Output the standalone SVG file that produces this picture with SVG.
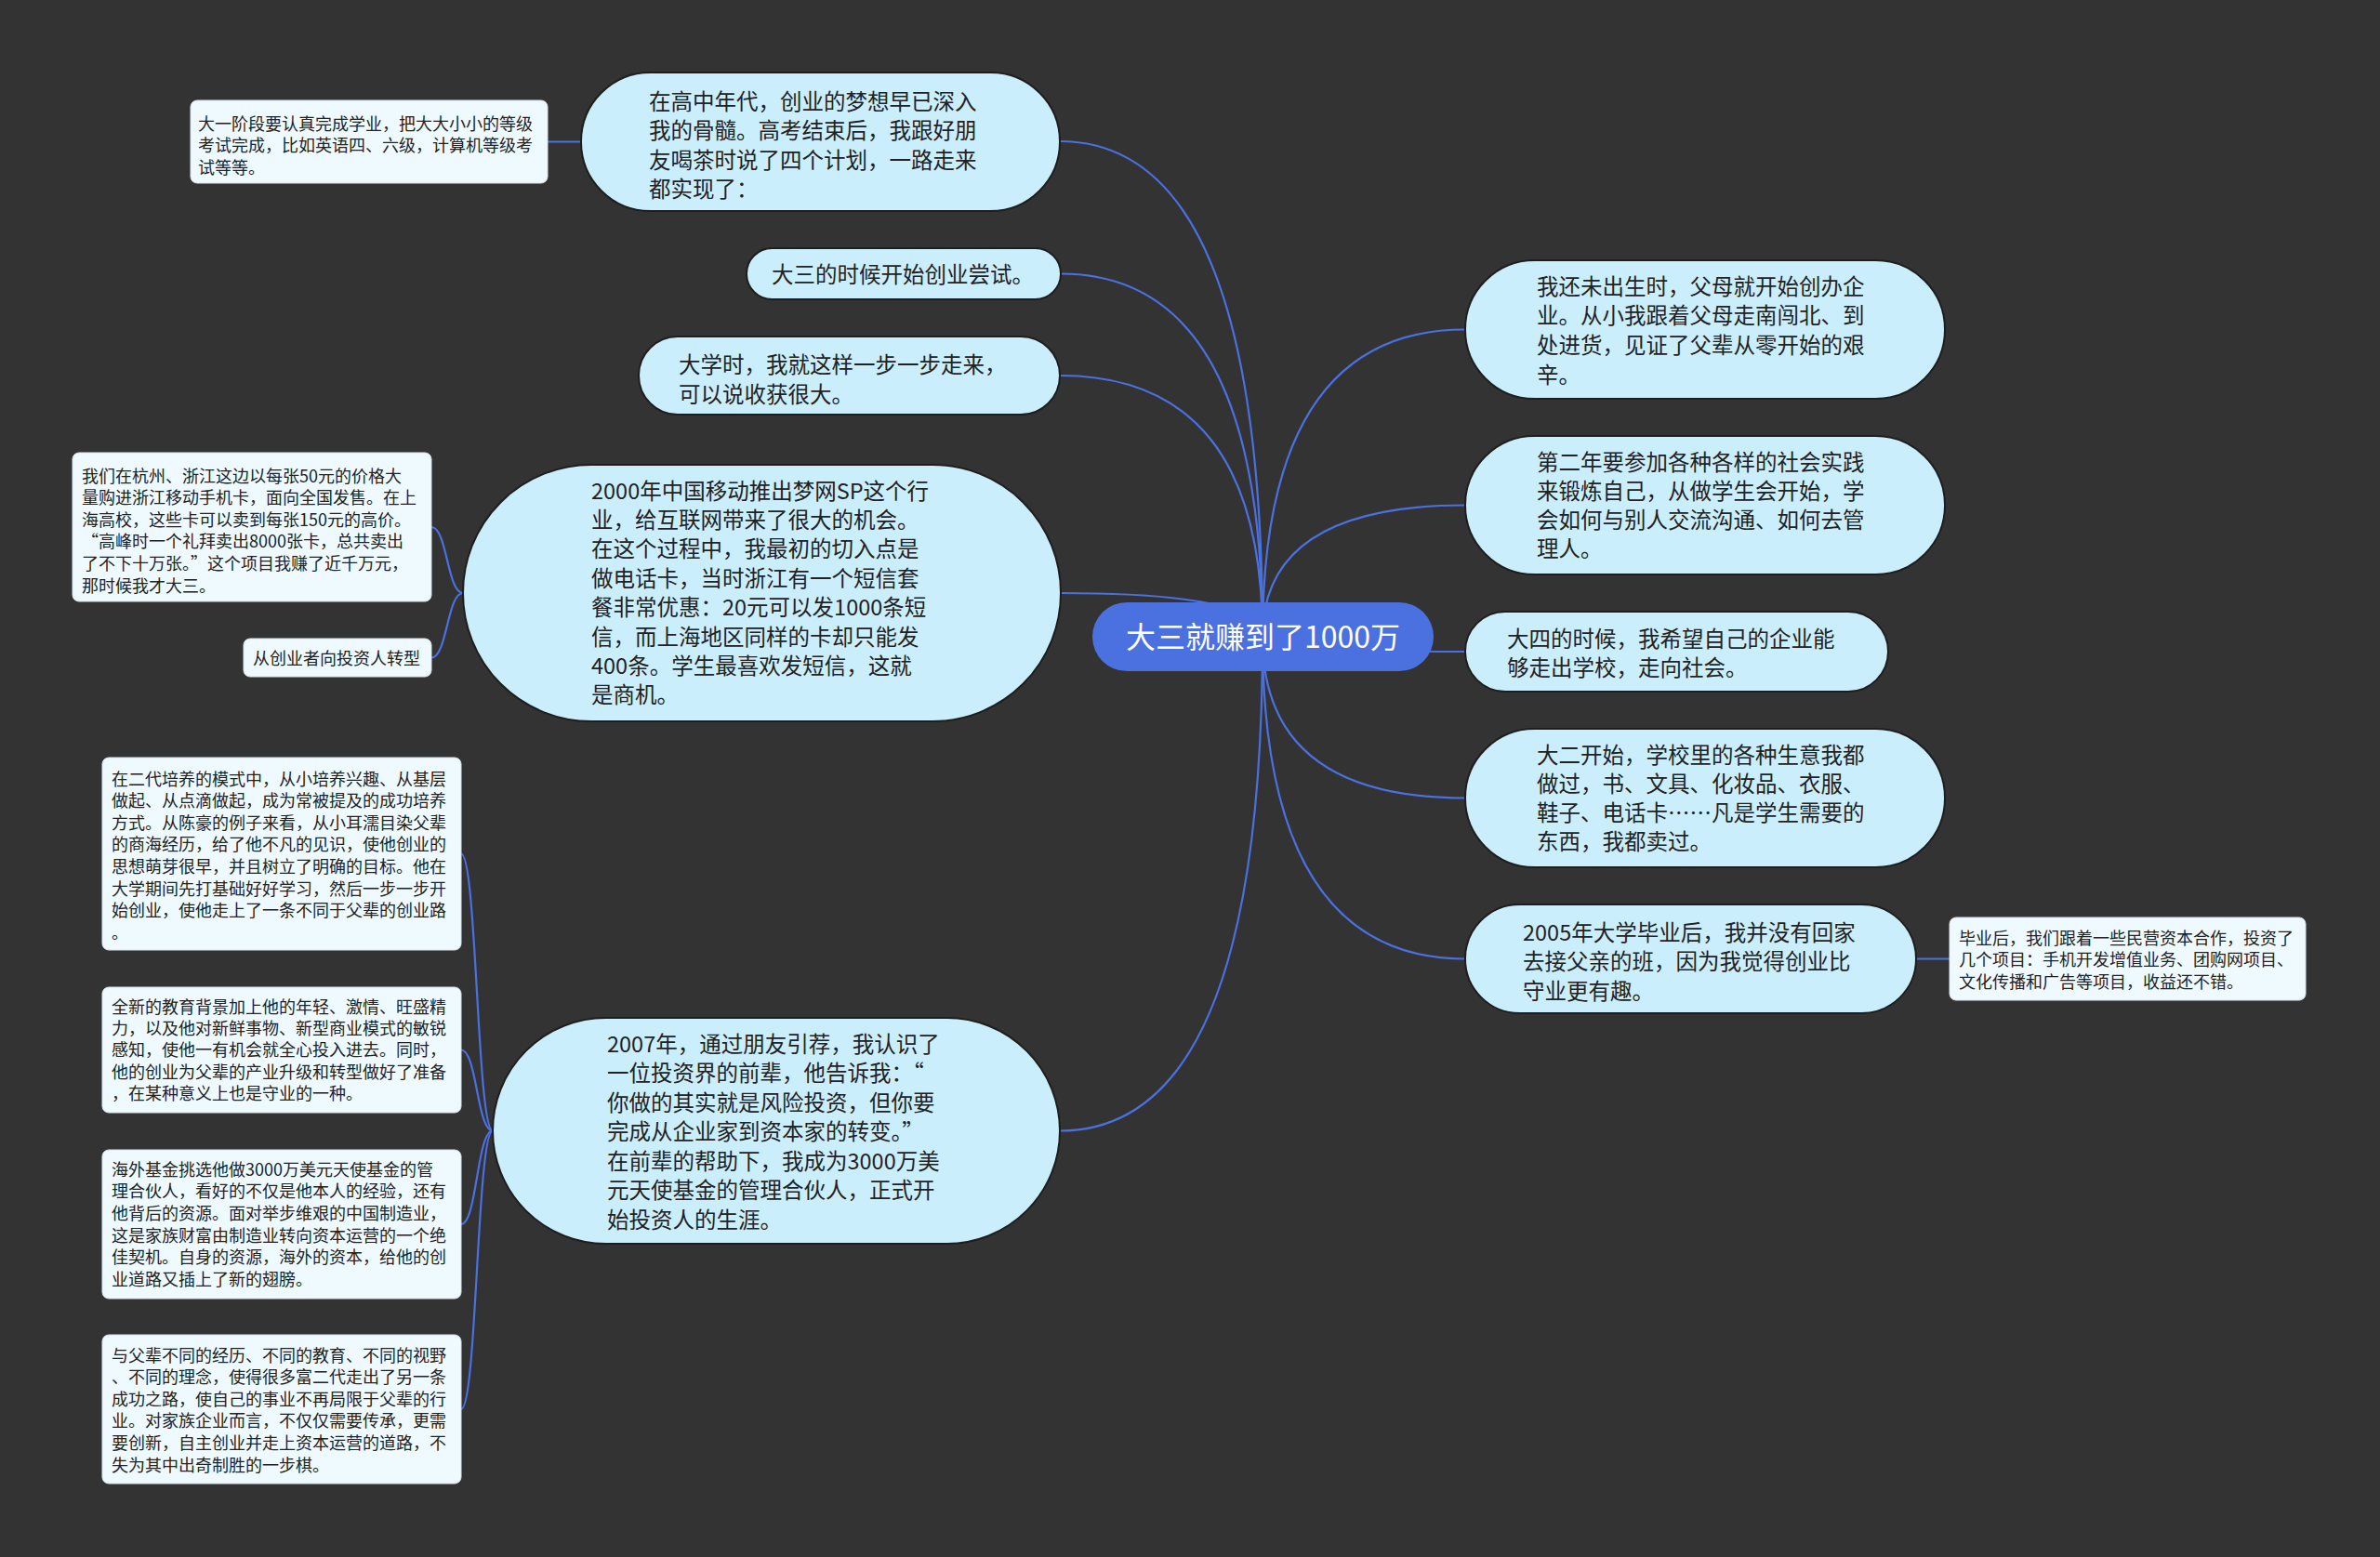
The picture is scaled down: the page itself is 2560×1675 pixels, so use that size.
<svg xmlns="http://www.w3.org/2000/svg" width="2560" height="1675" viewBox="0 0 2560 1675">
<style>
.bg{fill:#333333}
.pill{fill:#cbeefd;stroke:#1e1e1e;stroke-width:2}
.note{fill:#eefaff;stroke:#d8e4ea;stroke-width:1}
.root{fill:#4b70e0}
.t{font-family:"Noto Sans CJK SC","Noto Sans",sans-serif;fill:#222222}
.big{font-size:23.5px}
.small{font-size:18px}
.rt{font-family:"Noto Sans CJK SC","Noto Sans",sans-serif;font-size:32px;fill:#ffffff}
.ln{fill:none;stroke:#4b70e0;stroke-width:2.2}
</style>
<rect class="bg" x="0" y="0" width="2560" height="1675"/>
<g id="connectors">
<path class="ln" d="M1358,685 Q1358,152 1140,152"/>
<path class="ln" d="M1358,685 Q1358,294.5 1141,294.5"/>
<path class="ln" d="M1358,685 Q1358,404 1140,404"/>
<path class="ln" d="M1358,685 Q1358,638 1141,638"/>
<path class="ln" d="M1358,685 Q1358,1216.5 1140,1216.5"/>
<path class="ln" d="M1358,685 Q1358,354.5 1576,354.5"/>
<path class="ln" d="M1358,685 Q1358,543.5 1576,543.5"/>
<path class="ln" d="M1358,685 Q1358,701 1576,701"/>
<path class="ln" d="M1358,685 Q1358,858.5 1576,858.5"/>
<path class="ln" d="M1358,685 Q1358,1031.5 1576,1031.5"/>
<path class="ln" d="M625,152.5 L589,152.5"/>
<path class="ln" d="M2061,1031.5 L2097,1031.5"/>
<path class="ln" d="M498,638 C481,638 481,567 464,567"/>
<path class="ln" d="M498,638 C481,638 481,707.5 464,707.5"/>
<path class="ln" d="M530,1216.5 C513,1216.5 513,918.5 496,918.5"/>
<path class="ln" d="M530,1216.5 C513,1216.5 513,1129.5 496,1129.5"/>
<path class="ln" d="M530,1216.5 C513,1216.5 513,1317 496,1317"/>
<path class="ln" d="M530,1216.5 C513,1216.5 513,1516 496,1516"/>
</g>
<g id="root">
<rect class="root" x="1175" y="648" width="367" height="74" rx="37"/>
<text class="rt" x="1358.5" y="697" text-anchor="middle">大三就赚到了1000万</text>
</g>
<g id="nodeA">
<rect class="pill" x="625" y="78" width="515" height="149" rx="74.5"/>
<text class="t big"><tspan x="698" y="117.5">在高中年代，创业的梦想早已深入</tspan><tspan x="698" y="149.1">我的骨髓。高考结束后，我跟好朋</tspan><tspan x="698" y="180.7">友喝茶时说了四个计划，一路走来</tspan><tspan x="698" y="212.3">都实现了：</tspan></text>
</g>
<g id="nodeB">
<rect class="pill" x="803" y="267" width="338" height="55" rx="27.5"/>
<text class="t big" x="830" y="304">大三的时候开始创业尝试。</text>
</g>
<g id="nodeC">
<rect class="pill" x="687" y="362" width="453" height="84" rx="42"/>
<text class="t big"><tspan x="730" y="401">大学时，我就这样一步一步走来，</tspan><tspan x="730" y="432.5">可以说收获很大。</tspan></text>
</g>
<g id="nodeD">
<rect class="pill" x="498" y="500" width="643" height="276" rx="138"/>
<text class="t big"><tspan x="636" y="536.5">2000年中国移动推出梦网SP这个行</tspan><tspan x="636" y="567.9">业，给互联网带来了很大的机会。</tspan><tspan x="636" y="599.3">在这个过程中，我最初的切入点是</tspan><tspan x="636" y="630.7">做电话卡，当时浙江有一个短信套</tspan><tspan x="636" y="662.1">餐非常优惠：20元可以发1000条短</tspan><tspan x="636" y="693.5">信，而上海地区同样的卡却只能发</tspan><tspan x="636" y="724.9">400条。学生最喜欢发短信，这就</tspan><tspan x="636" y="756.3">是商机。</tspan></text>
</g>
<g id="nodeE">
<rect class="pill" x="530" y="1095" width="610" height="243" rx="121.5"/>
<text class="t big"><tspan x="653" y="1131.5">2007年，通过朋友引荐，我认识了</tspan><tspan x="653" y="1163">一位投资界的前辈，他告诉我：“</tspan><tspan x="653" y="1194.5">你做的其实就是风险投资，但你要</tspan><tspan x="653" y="1226">完成从企业家到资本家的转变。”</tspan><tspan x="653" y="1257.5">在前辈的帮助下，我成为3000万美</tspan><tspan x="653" y="1289">元天使基金的管理合伙人，正式开</tspan><tspan x="653" y="1320.5">始投资人的生涯。</tspan></text>
</g>
<g id="nodeF">
<rect class="note" x="205" y="108" width="384" height="89" rx="7"/>
<text class="t small"><tspan x="213" y="139.5">大一阶段要认真完成学业，把大大小小的等级</tspan><tspan x="213" y="163">考试完成，比如英语四、六级，计算机等级考</tspan><tspan x="213" y="186.5">试等等。</tspan></text>
</g>
<g id="nodeG">
<rect class="note" x="78" y="487" width="386" height="160" rx="7"/>
<text class="t small"><tspan x="88" y="518.5">我们在杭州、浙江这边以每张50元的价格大</tspan><tspan x="88" y="542.1">量购进浙江移动手机卡，面向全国发售。在上</tspan><tspan x="88" y="565.7">海高校，这些卡可以卖到每张150元的高价。</tspan><tspan x="88" y="589.3">“高峰时一个礼拜卖出8000张卡，总共卖出</tspan><tspan x="88" y="612.9">了不下十万张。”这个项目我赚了近千万元，</tspan><tspan x="88" y="636.5">那时候我才大三。</tspan></text>
</g>
<g id="nodeH">
<rect class="note" x="262" y="687" width="202" height="41" rx="7"/>
<text class="t small" x="272" y="714.5">从创业者向投资人转型</text>
</g>
<g id="nodeI">
<rect class="note" x="110" y="815" width="386" height="207" rx="7"/>
<text class="t small"><tspan x="120" y="844.5">在二代培养的模式中，从小培养兴趣、从基层</tspan><tspan x="120" y="868.1">做起、从点滴做起，成为常被提及的成功培养</tspan><tspan x="120" y="891.7">方式。从陈豪的例子来看，从小耳濡目染父辈</tspan><tspan x="120" y="915.3">的商海经历，给了他不凡的见识，使他创业的</tspan><tspan x="120" y="938.9">思想萌芽很早，并且树立了明确的目标。他在</tspan><tspan x="120" y="962.5">大学期间先打基础好好学习，然后一步一步开</tspan><tspan x="120" y="986.1">始创业，使他走上了一条不同于父辈的创业路</tspan><tspan x="120" y="1009.7">。</tspan></text>
</g>
<g id="nodeJ">
<rect class="note" x="110" y="1062" width="386" height="135" rx="7"/>
<text class="t small"><tspan x="120" y="1089.5">全新的教育背景加上他的年轻、激情、旺盛精</tspan><tspan x="120" y="1112.9">力，以及他对新鲜事物、新型商业模式的敏锐</tspan><tspan x="120" y="1136.3">感知，使他一有机会就全心投入进去。同时，</tspan><tspan x="120" y="1159.7">他的创业为父辈的产业升级和转型做好了准备</tspan><tspan x="120" y="1183.1">，在某种意义上也是守业的一种。</tspan></text>
</g>
<g id="nodeK">
<rect class="note" x="110" y="1237" width="386" height="160" rx="7"/>
<text class="t small"><tspan x="120" y="1264.5">海外基金挑选他做3000万美元天使基金的管</tspan><tspan x="120" y="1288.2">理合伙人，看好的不仅是他本人的经验，还有</tspan><tspan x="120" y="1311.9">他背后的资源。面对举步维艰的中国制造业，</tspan><tspan x="120" y="1335.6">这是家族财富由制造业转向资本运营的一个绝</tspan><tspan x="120" y="1359.3">佳契机。自身的资源，海外的资本，给他的创</tspan><tspan x="120" y="1383">业道路又插上了新的翅膀。</tspan></text>
</g>
<g id="nodeL">
<rect class="note" x="110" y="1436" width="386" height="160" rx="7"/>
<text class="t small"><tspan x="120" y="1464.5">与父辈不同的经历、不同的教育、不同的视野</tspan><tspan x="120" y="1488.1">、不同的理念，使得很多富二代走出了另一条</tspan><tspan x="120" y="1511.7">成功之路，使自己的事业不再局限于父辈的行</tspan><tspan x="120" y="1535.3">业。对家族企业而言，不仅仅需要传承，更需</tspan><tspan x="120" y="1558.9">要创新，自主创业并走上资本运营的道路，不</tspan><tspan x="120" y="1582.5">失为其中出奇制胜的一步棋。</tspan></text>
</g>
<g id="nodeM">
<rect class="pill" x="1576" y="280" width="516" height="149" rx="74.5"/>
<text class="t big"><tspan x="1653" y="316.5">我还未出生时，父母就开始创办企</tspan><tspan x="1653" y="348.2">业。从小我跟着父母走南闯北、到</tspan><tspan x="1653" y="379.9">处进货，见证了父辈从零开始的艰</tspan><tspan x="1653" y="411.6">辛。</tspan></text>
</g>
<g id="nodeN">
<rect class="pill" x="1576" y="469" width="516" height="149" rx="74.5"/>
<text class="t big"><tspan x="1653" y="505.5">第二年要参加各种各样的社会实践</tspan><tspan x="1653" y="536.8">来锻炼自己，从做学生会开始，学</tspan><tspan x="1653" y="568.1">会如何与别人交流沟通、如何去管</tspan><tspan x="1653" y="599.4">理人。</tspan></text>
</g>
<g id="nodeO">
<rect class="pill" x="1576" y="658" width="455" height="86" rx="43"/>
<text class="t big"><tspan x="1621" y="695.5">大四的时候，我希望自己的企业能</tspan><tspan x="1621" y="726.5">够走出学校，走向社会。</tspan></text>
</g>
<g id="nodeP">
<rect class="pill" x="1576" y="784" width="516" height="149" rx="74.5"/>
<text class="t big"><tspan x="1653" y="820.5">大二开始，学校里的各种生意我都</tspan><tspan x="1653" y="851.8">做过，书、文具、化妆品、衣服、</tspan><tspan x="1653" y="883.1">鞋子、电话卡……凡是学生需要的</tspan><tspan x="1653" y="914.4">东西，我都卖过。</tspan></text>
</g>
<g id="nodeQ">
<rect class="pill" x="1576" y="973" width="485" height="117" rx="58.5"/>
<text class="t big"><tspan x="1638" y="1011.5">2005年大学毕业后，我并没有回家</tspan><tspan x="1638" y="1043">去接父亲的班，因为我觉得创业比</tspan><tspan x="1638" y="1074.5">守业更有趣。</tspan></text>
</g>
<g id="nodeR">
<rect class="note" x="2097" y="987" width="383" height="89" rx="7"/>
<text class="t small"><tspan x="2107" y="1015.5">毕业后，我们跟着一些民营资本合作，投资了</tspan><tspan x="2107" y="1039.3">几个项目：手机开发增值业务、团购网项目、</tspan><tspan x="2107" y="1063.1">文化传播和广告等项目，收益还不错。</tspan></text>
</g>
</svg>
